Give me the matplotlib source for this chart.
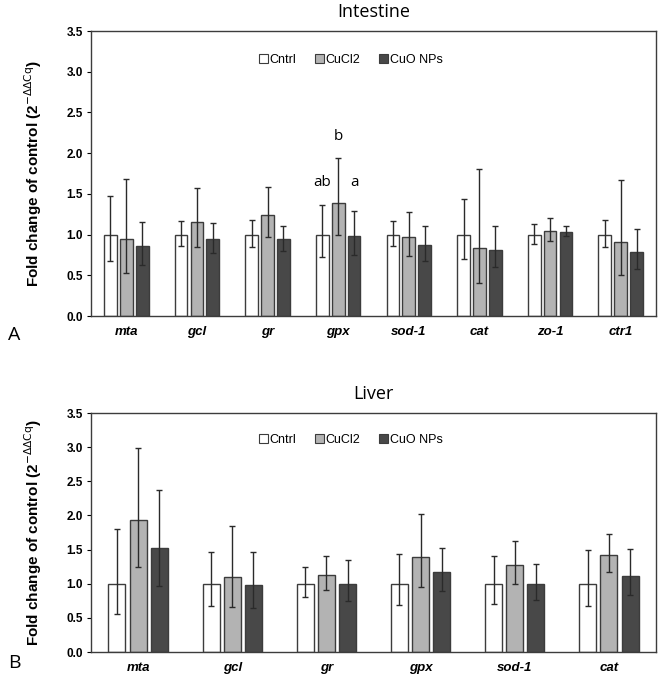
import numpy as np
import matplotlib.pyplot as plt

plt.rcParams['font.family'] = ['Liberation Sans', 'DejaVu Sans']

groups = ['Cntrl', 'CuCl2', 'CuO NPs']
colors = ['#ffffff', '#b3b3b3', '#484848']

# Intestine: mean, lower and upper ends of the error bars
int_genes = ['mta', 'gcl', 'gr', 'gpx', 'sod-1', 'cat', 'zo-1', 'ctr1']
int_mean = [
    [1.00, 1.00, 1.00, 1.00, 1.00, 1.00, 1.00, 1.00],
    [0.95, 1.15, 1.24, 1.39, 0.97, 0.84, 1.05, 0.91],
    [0.86, 0.94, 0.94, 0.98, 0.87, 0.81, 1.03, 0.79],
]
int_low = [
    [0.68, 0.86, 0.85, 0.73, 0.86, 0.70, 0.89, 0.85],
    [0.53, 0.85, 0.97, 1.00, 0.74, 0.40, 0.92, 0.50],
    [0.63, 0.77, 0.80, 0.75, 0.68, 0.60, 0.98, 0.58],
]
int_high = [
    [1.47, 1.17, 1.18, 1.36, 1.17, 1.44, 1.13, 1.18],
    [1.68, 1.57, 1.59, 1.94, 1.28, 1.80, 1.20, 1.67],
    [1.15, 1.14, 1.10, 1.29, 1.11, 1.10, 1.10, 1.07],
]
gpx_letters = ['ab', 'b', 'a']
gpx_letter_y = [1.64, 2.20, 1.64]

# Liver
liv_genes = ['mta', 'gcl', 'gr', 'gpx', 'sod-1', 'cat']
liv_mean = [
    [1.00, 1.00, 1.00, 1.00, 1.00, 1.00],
    [1.93, 1.10, 1.13, 1.39, 1.28, 1.42],
    [1.52, 0.98, 1.00, 1.17, 0.99, 1.12],
]
liv_low = [
    [0.55, 0.68, 0.81, 0.69, 0.71, 0.68],
    [1.25, 0.66, 0.91, 0.95, 1.00, 1.17],
    [0.97, 0.65, 0.75, 0.90, 0.76, 0.83],
]
liv_high = [
    [1.80, 1.47, 1.24, 1.44, 1.40, 1.49],
    [2.99, 1.85, 1.41, 2.02, 1.63, 1.73],
    [2.38, 1.46, 1.35, 1.52, 1.29, 1.51],
]


def draw_panel(ax, genes, mean, low, high, title, leg_x):
    x = np.arange(len(genes))
    width = 0.18
    step = 0.225
    for i, g in enumerate(groups):
        m = np.array(mean[i])
        err = [m - np.array(low[i]), np.array(high[i]) - m]
        ax.bar(x + (i - 1) * step, m, width, color=colors[i],
               edgecolor='#3c3c3c', linewidth=1.0, label=g,
               yerr=err, capsize=2.5,
               error_kw=dict(ecolor='#2a2a2a', elinewidth=1.0, capthick=1.0))
    ax.set_xlim(-0.5, len(genes) - 0.5)
    ax.set_ylim(0, 3.5)
    ax.set_yticks(np.arange(0, 3.51, 0.5))
    ax.set_yticklabels([f'{v:.1f}' for v in np.arange(0, 3.51, 0.5)],
                       fontweight='bold', fontsize=8.5)
    ax.set_xticks(x)
    ax.set_xticklabels(genes, fontweight='bold', fontstyle='italic', fontsize=9.5)
    ax.tick_params(axis='x', length=0, pad=7)
    ax.tick_params(axis='y', length=3, width=0.8, direction='out', pad=3)
    for s in ax.spines.values():
        s.set_color('#3c3c3c')
        s.set_linewidth(1.0)
    ax.set_ylabel('Fold change of control (2$^{-\\Delta\\Delta \\mathrm{Cq}}$)',
                  fontweight='bold', fontsize=11, labelpad=16)
    ax.set_title(title, fontsize=13, family=['Open Sans', 'DejaVu Sans'], pad=10)
    leg = ax.legend(loc='upper center', bbox_to_anchor=(leg_x, 0.96), ncol=3,
                    frameon=False, fontsize=9, handlelength=0.7,
                    handleheight=0.7, handletextpad=0.15, columnspacing=1.5)
    for h in leg.legend_handles:
        h.set_linewidth(0.8)
    return x, step


fig = plt.figure(figsize=(6.61, 6.77), dpi=100)
ax1 = fig.add_axes([0.1377, 0.5332, 0.8548, 0.421])
ax2 = fig.add_axes([0.1377, 0.0369, 0.8548, 0.353])

x1, step = draw_panel(ax1, int_genes, int_mean, int_low, int_high, 'Intestine', 0.46)
gi = int_genes.index('gpx')
for i, (lab, yy) in enumerate(zip(gpx_letters, gpx_letter_y)):
    ax1.text(x1[gi] + (i - 1) * step, yy, lab, ha='center', va='center',
             fontsize=11, family=['Open Sans', 'DejaVu Sans'])

draw_panel(ax2, liv_genes, liv_mean, liv_low, liv_high, 'Liver', 0.46)

fig.text(8 / 661, 1 - 335 / 677, 'A', fontsize=14, va='center',
         family=['Open Sans', 'DejaVu Sans'])
fig.text(8 / 661, 1 - 663 / 677, 'B', fontsize=14, va='center',
         family=['Open Sans', 'DejaVu Sans'])

fig.savefig('out.png', dpi=100)
